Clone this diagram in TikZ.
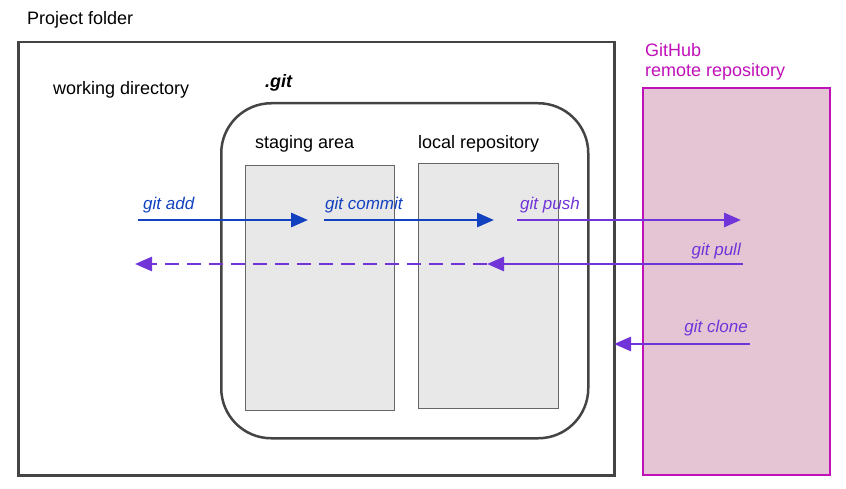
\documentclass[tikz,border=0pt]{standalone}
\usepackage{fontspec}
\setmainfont{Liberation Sans}
\usetikzlibrary{arrows.meta}
\definecolor{frame}{HTML}{444444}
\definecolor{boxgray}{HTML}{E8E8E8}
\definecolor{boxline}{HTML}{666666}
\definecolor{ghfill}{HTML}{E5C5D4}
\definecolor{ghline}{HTML}{C010B8}
\definecolor{gitblue}{HTML}{1242C0}
\definecolor{gitpurple}{HTML}{7034D8}
\tikzset{
  frm/.style={draw=frame, line width=2.5pt},
  area/.style={draw=boxline, line width=1.2pt, fill=boxgray},
  lbl/.style={font=\fontsize{18}{20}\selectfont, inner sep=0pt},
  cmd/.style={font=\fontsize{17}{20}\selectfont\itshape, inner sep=0pt},
  arr/.style={line width=2.8pt, -{Triangle[length=17pt,width=14pt]}},
}
\begin{document}
\begin{tikzpicture}[x=1pt,y=-1pt]
\useasboundingbox (0,0) rectangle (846,489);
% boxes
\node[frm, minimum width=596pt, minimum height=433pt, inner sep=0pt, anchor=north west] (proj) at (17,41) {};
\draw[ghline, line width=2.5pt, fill=ghfill] (643,88) rectangle (830,475);
\node[inner sep=0pt, minimum width=187pt, minimum height=387pt, anchor=north west] (gh) at (643,88) {};
\node[frm, rounded corners=50pt, minimum width=367pt, minimum height=335pt, anchor=north west, inner sep=0pt] (dotgit) at (220,102) {};
\node[area, minimum width=149pt, minimum height=245pt, anchor=north west, inner sep=0pt] (stage) at (245,165) {};
\node[area, minimum width=140pt, minimum height=245pt, anchor=north west, inner sep=0pt] (local) at (418,163) {};
% labels
\node[lbl, anchor=west] (tproj) at (27,20) {Project folder};
\node[lbl, anchor=west] (twork) at (53,90) {working directory};
\node[lbl, anchor=west, font=\fontsize{18}{20}\selectfont\bfseries\itshape] (tgit) at (265,83) {.git};
\node[lbl, anchor=west] (tstage) at (255,144) {staging area};
\node[lbl, anchor=west] (tlocal) at (418,144) {local repository};
\node[lbl, anchor=west, text=ghline] (tgh1) at (645,50) {GitHub};
\node[lbl, anchor=west, text=ghline] (tgh2) at (645,72) {remote repository};
% arrow endpoints
\coordinate (a1) at (138,220); \coordinate (a2) at (308,220);
\coordinate (c1) at (324,220); \coordinate (c2) at (494,220);
\coordinate (p1) at (517,220); \coordinate (p2) at (741,220);
\coordinate (l1) at (743,264); \coordinate (l2) at (487,264); \coordinate (l3) at (135,264);
\coordinate (k1) at (750,344); \coordinate (k2) at (614,344);
% arrows
\draw[arr, gitblue] (a1) -- (a2);
\draw[arr, gitblue] (c1) -- (c2);
\draw[arr, gitpurple] (p1) -- (p2);
\draw[arr, gitpurple] (l1) -- (l2);
\draw[arr, gitpurple, dash pattern=on 14pt off 8pt] (l2) -- (l3);
\draw[arr, gitpurple] (k1) -- (k2);
% command labels
\node[cmd, text=gitblue, anchor=west] (ladd) at (143,205) {git add};
\node[cmd, text=gitblue, anchor=west] (lcommit) at (325,205) {git commit};
\node[cmd, text=gitpurple, anchor=west] (lpush) at (520,205) {git push};
\node[cmd, text=gitpurple, anchor=east] (lpull) at (741,251) {git pull};
\node[cmd, text=gitpurple, anchor=east] (lclone) at (748,328) {git clone};
\end{tikzpicture}
\end{document}
